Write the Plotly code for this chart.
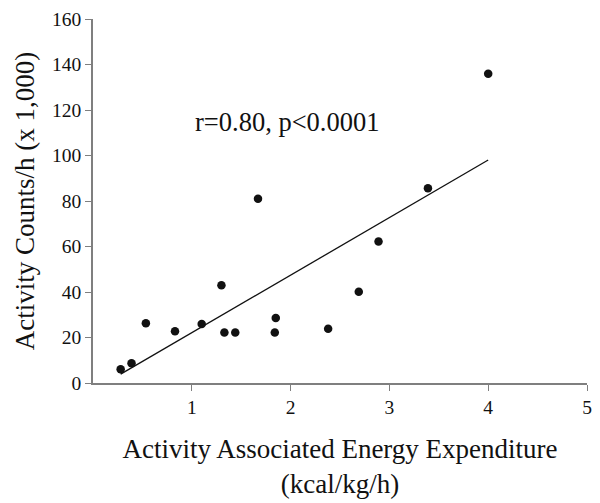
import plotly.graph_objects as go

# Data
energy_x = [0.28, 0.39, 0.535, 0.83, 1.10, 1.30, 1.33, 1.44, 1.67, 1.84, 1.85, 2.38, 2.69, 2.89, 3.39, 4.00]
counts_y = [6.0, 8.7, 26.3, 22.7, 25.9, 43.0, 22.2, 22.2, 81.0, 22.2, 28.6, 23.8, 40.1, 62.2, 85.6, 135.9]

fit_x = [0.28, 4.0]
fit_y = [3.9, 98.0]

x_ticks = [1, 2, 3, 4, 5]
y_ticks = [0, 20, 40, 60, 80, 100, 120, 140, 160]

FONT = "Liberation Serif, Times New Roman, serif"
AXIS_COLOR = "#7f7f7f"

fig = go.Figure()
fig.add_trace(go.Scatter(x=fit_x, y=fit_y, mode="lines",
                         line=dict(color="#111111", width=1.3), showlegend=False))
fig.add_trace(go.Scatter(x=energy_x, y=counts_y, mode="markers",
                         marker=dict(color="#111111", size=8.5), showlegend=False))

fig.add_annotation(x=1.01, y=114.7, xref="x", yref="y", text="r=0.80, p<0.0001",
                   showarrow=False, xanchor="left", yanchor="middle",
                   font=dict(family=FONT, size=26.5, color="#111111"))

# page body has an 8px margin, so the figure is sized to the visible area
fig.update_layout(
    width=592, height=495,
    margin=dict(l=85, r=13, t=11, b=120),
    paper_bgcolor="white", plot_bgcolor="white",
    font=dict(family=FONT, color="#111111"),
    xaxis=dict(range=[0, 5], tickvals=x_ticks, ticks="outside", ticklen=6,
               tickcolor=AXIS_COLOR, showline=True, linecolor=AXIS_COLOR, linewidth=1.5,
               showgrid=False, zeroline=False, tickfont=dict(size=19.5, family=FONT),
               automargin=False, ticklabeloverflow="allow",
               title=dict(text="Activity Associated Energy Expenditure<br>(kcal/kg/h)",
                          font=dict(size=27, family=FONT), standoff=22)),
    yaxis=dict(range=[0, 160], tickvals=y_ticks, ticks="outside", ticklen=6,
               tickcolor=AXIS_COLOR, showline=True, linecolor=AXIS_COLOR, linewidth=1.5,
               showgrid=False, zeroline=False, tickfont=dict(size=19.5, family=FONT),
               automargin=False, ticklabeloverflow="allow",
               title=dict(text="Activity Counts/h (x 1,000)",
                          font=dict(size=27, family=FONT), standoff=10)),
)

fig.write_html("out.html")
